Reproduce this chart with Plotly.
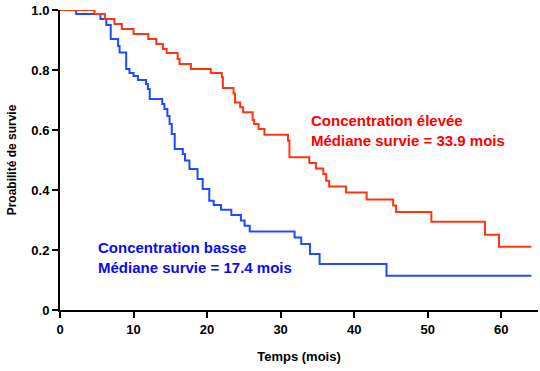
import plotly.graph_objects as go

# Kaplan-Meier step data (time in months, survival probability)
high_t = [0, 4.7, 6.1, 7.4, 8.4, 10.0, 12.0, 13.1, 14.0, 14.5, 16.0, 16.25, 17.8,
          20.5, 22.0, 22.15, 23.6, 23.8, 24.5, 24.9, 26.2, 26.4, 27.0, 27.8,
          31.0, 31.2, 33.9, 34.8, 35.8, 36.2, 36.6, 38.9, 41.7, 45.3, 45.7,
          50.5, 57.8, 59.7, 64.1]
high_s = [1.0, 0.987, 0.97, 0.953, 0.937, 0.92, 0.903, 0.887, 0.87, 0.857, 0.837, 0.82, 0.803,
          0.79, 0.776, 0.74, 0.722, 0.692, 0.676, 0.659, 0.633, 0.62, 0.603, 0.584,
          0.564, 0.509, 0.49, 0.472, 0.453, 0.431, 0.412, 0.392, 0.368, 0.348, 0.327,
          0.294, 0.251, 0.211, 0.211]

low_t = [0, 2.2, 5.5, 6.3, 6.9, 7.9, 8.1, 9.0, 9.45, 10.0, 10.6, 11.7, 11.95, 12.2,
         13.9, 14.2, 14.6, 14.9, 15.2, 15.6, 16.7, 17.0, 17.6, 18.7, 19.4, 20.3,
         20.9, 21.9, 23.3, 24.6, 25.1, 25.8, 31.9, 32.8, 34.0, 35.3, 44.4, 64.1]
low_s = [1.0, 0.987, 0.97, 0.95, 0.903, 0.88, 0.858, 0.803, 0.79, 0.78, 0.767, 0.753, 0.737, 0.703,
         0.687, 0.67, 0.647, 0.62, 0.587, 0.537, 0.52, 0.498, 0.47, 0.437, 0.403, 0.364,
         0.35, 0.334, 0.317, 0.298, 0.281, 0.262, 0.242, 0.22, 0.187, 0.153, 0.114, 0.114]

x_ticks = [0, 10, 20, 30, 40, 50, 60]
y_ticks = [0, 0.2, 0.4, 0.6, 0.8, 1.0]
y_ticktext = ["0", "0.2", "0.4", "0.6", "0.8", "1.0"]

FONT = "Arial, Liberation Sans, sans-serif"

fig = go.Figure()
fig.add_trace(go.Scatter(x=low_t, y=low_s, mode="lines", line_shape="hv",
                         line=dict(color="#1f4bff", width=2), showlegend=False))
fig.add_trace(go.Scatter(x=high_t, y=high_s, mode="lines", line_shape="hv",
                         line=dict(color="#ff3510", width=2), showlegend=False))

fig.add_annotation(x=33.8, y=0.668, xref="x", yref="y", xanchor="left", yanchor="top",
                   align="left", showarrow=False,
                   text="<b>Concentration élevée<br>Médiane survie = 33.9 mois</b>",
                   font=dict(family=FONT, size=15, color="#ff0000"))
fig.add_annotation(x=4.9, y=0.243, xref="x", yref="y", xanchor="left", yanchor="top",
                   align="left", showarrow=False,
                   text="<b>Concentration basse<br>Médiane survie = 17.4 mois</b>",
                   font=dict(family=FONT, size=15, color="#0a0af0"))

axis_common = dict(showline=True, linecolor="black", linewidth=2, ticks="outside",
                   ticklen=6, tickwidth=2, tickcolor="black", showgrid=False,
                   zeroline=False, mirror=False)

fig.update_xaxes(range=[0, 65], tickvals=x_ticks,
                 ticktext=[f"<b>{v}</b>" for v in x_ticks],
                 title=dict(text="<b>Temps (mois)</b>", font=dict(family=FONT, size=13, color="black"),
                            standoff=16),
                 tickfont=dict(family=FONT, size=13, color="black"), **axis_common)
fig.update_yaxes(range=[0, 1.0], tickvals=y_ticks,
                 ticktext=[f"<b>{v}</b>" for v in y_ticktext],
                 title=dict(text="<b>Proabilité de survie</b>", font=dict(family=FONT, size=12, color="black"),
                            standoff=12),
                 tickfont=dict(family=FONT, size=13, color="black"), **axis_common)

fig.update_layout(width=540, height=371, margin=dict(l=60, r=2, t=10, b=61),
                  plot_bgcolor="white", paper_bgcolor="white",
                  font=dict(family=FONT, color="black"))

fig.write_html("out.html")
